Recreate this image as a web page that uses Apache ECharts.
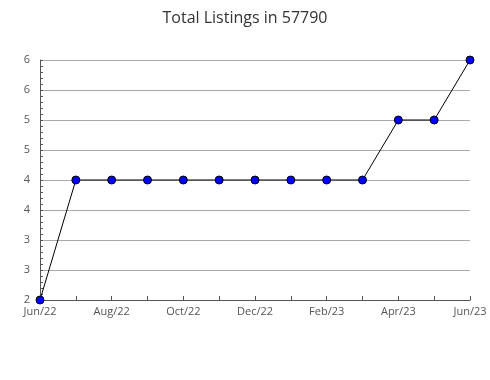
<!DOCTYPE html>
<html>
<head>
<meta charset="utf-8">
<script src="https://cdn.jsdelivr.net/npm/echarts@6/dist/echarts.min.js"></script>
<style>html,body{margin:0;padding:0;background:#fff}#c{width:490px;height:380px}</style>
</head>
<body>
<div id="c"></div>
<script>
var titleText = 'Total Listings in 57790';
var categories = ['Jun/22','Jul/22','Aug/22','Sep/22','Oct/22','Nov/22','Dec/22','Jan/23','Feb/23','Mar/23','Apr/23','May/23','Jun/23'];
var listings = [2,4,4,4,4,4,4,4,4,4,5,5,6];
var yTickValues = [2,2.5,3,3.5,4,4.5,5,5.5,6];
var yTickLabels = ['2','3','3','4','4','5','5','6','6'];

var chart = echarts.init(document.getElementById('c'));
chart.setOption({
  animation: false,
  title: {
    text: titleText, left: 'center', top: 5,
    textStyle: {fontFamily: 'Open Sans', fontSize: 16, fontWeight: 'normal', color: '#333'}
  },
  grid: {left: 40, right: 20, top: 60, bottom: 80},
  xAxis: {
    type: 'category', data: categories, boundaryGap: false,
    axisLine: {lineStyle: {color: '#555', width: 1}},
    axisTick: {show: true, inside: true, length: 4, interval: 0, lineStyle: {color: '#555'}},
    axisLabel: {interval: 1, color: '#555', fontFamily: 'Open Sans', fontSize: 11, margin: 6},
    splitLine: {show: false}
  },
  yAxis: {
    type: 'value', min: 2, max: 6, interval: 0.5,
    axisLine: {show: true, lineStyle: {color: '#555', width: 1}},
    axisTick: {show: true, inside: true, length: 3, lineStyle: {color: '#555'}},
    minorTick: {show: true, splitNumber: 5, length: 3, lineStyle: {color: '#555'}},
    axisLabel: {
      color: '#555', fontFamily: 'Open Sans', fontSize: 11, margin: 10,
      formatter: function (v) {
        var i = yTickValues.indexOf(v);
        return i >= 0 ? yTickLabels[i] : '';
      }
    },
    splitLine: {show: true, lineStyle: {color: '#aaa', width: 1}}
  },
  series: [{
    type: 'line', data: listings,
    lineStyle: {color: '#000', width: 1},
    symbol: 'circle', symbolSize: 8,
    itemStyle: {color: '#0000ff', borderColor: '#000', borderWidth: 1}
  }]
});
</script>
</body>
</html>
